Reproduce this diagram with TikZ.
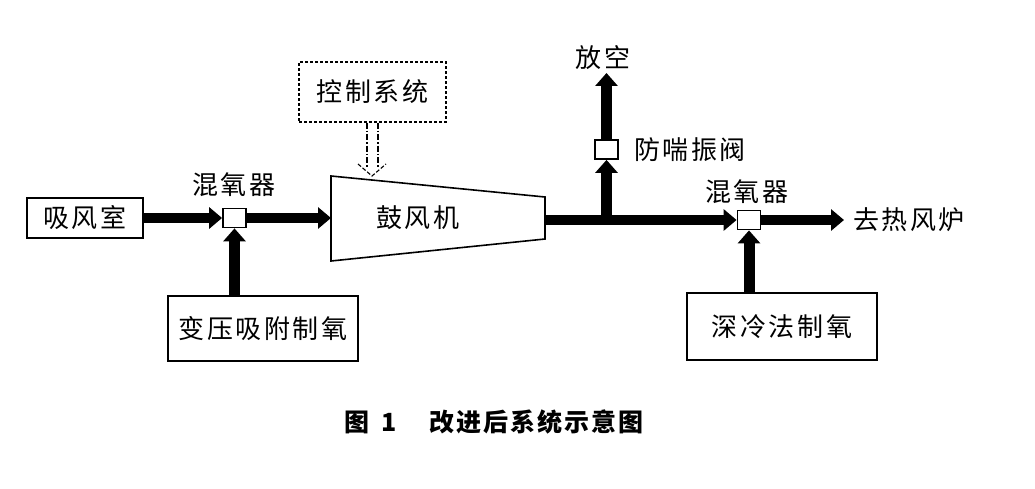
\documentclass[tikz,border=0pt]{standalone}
\usepackage{fontspec}
\usetikzlibrary{arrows.meta}
\newfontfamily\cjk[LetterSpace=10]{Noto Sans CJK SC}
\newfontfamily\cjkcap[LetterSpace=8]{Noto Sans CJK SC}
\begin{document}
\begin{tikzpicture}[x=1pt,y=-1pt,
  lbl/.style={font=\cjk\fontsize{26}{30}\selectfont, inner sep=0pt},
  unit/.style={draw, line width=2.6pt, minimum height=#1, inner sep=0pt, font=\cjk\fontsize{26}{30}\selectfont},
  mixer/.style={draw, line width=1.8pt, fill=white, minimum width=23pt, minimum height=19pt, inner sep=0pt},
  flow/.style={line width=10pt, -{Triangle[width=21pt,length=13pt]}},
  flowv/.style={line width=11pt, -{Triangle[width=22pt,length=13pt]}},
  ctrl/.style={line width=1.1pt, dash pattern=on 6pt off 2pt on 1.5pt off 2pt}
]
\useasboundingbox (0,0) rectangle (1035,489);

% source boxes
\node[unit=40pt, minimum width=116pt] (room) at (85,218) {吸风室};
\node[unit=65pt, minimum width=190pt] (psa) at (263,328.5) {变压吸附制氧};
\node[unit=67pt, minimum width=190pt] (cryo) at (782,326.5) {深冷法制氧};

% mixers and surge valve
\node[mixer] (mix1) at (234.5,218) {};
\node[mixer] (mix2) at (749,220) {};
\node[mixer] (valve) at (606.5,149.5) {};
\node[lbl, anchor=south] (mix1lbl) at (234,197) {混氧器};
\node[lbl, anchor=south] (mix2lbl) at (747,204) {混氧器};
\node[lbl, anchor=west] (valvelbl) at (634,150) {防喘振阀};

% blower drawn as a tapering trapezoid
\draw[line width=1.6pt] (331,176) -- (545,197) -- (545,239) -- (331,261) -- cycle;
\node[lbl] (blower) at (418,218) {鼓风机};
\coordinate (blowL) at (331,218);
\coordinate (blowR) at (545,220);

% control system
\node[draw, line width=1.2pt, dash pattern=on 3pt off 2pt, minimum width=147pt, minimum height=60pt, font=\cjk\fontsize{26}{30}\selectfont] (ctrlbox) at (372.5,92) {控制系统};
\draw[ctrl] ([xshift=-5.5pt]ctrlbox.south) -- ++(0,44);
\draw[ctrl] ([xshift=5.5pt]ctrlbox.south) -- ++(0,44);
\coordinate (ctip) at (372,176);
\draw[line width=1.1pt, dash pattern=on 4pt off 2pt] (358,164) -- (ctip) -- (386,164);

% outlets
\node[lbl] (vent) at (603,58) {放空};
\node[lbl, anchor=west] (furnace) at (853,220) {去热风炉};
\coordinate (ventend) at (606.5,73);
\coordinate (outend) at (844,220);
\coordinate (junction) at (606.5,220);

% main flow
\draw[flow] (room.east) -- (mix1.west);
\draw[flow] (mix1.east) -- (blowL);
\draw[flow] (blowR) -- (mix2.west);
\draw[flow] (mix2.east) -- (outend);
\draw[flowv] ([yshift=5pt]junction) -- (valve.south);
\draw[flowv] (valve.north) -- (ventend);
\draw[flowv] (psa.north -| mix1) -- (mix1.south);
\draw[flowv] (cryo.north -| mix2) -- (mix2.south);

% caption
\node[font=\cjkcap\bfseries\fontsize{25}{30}\selectfont, inner sep=0pt] (caption) at (494,422) {图\hspace{0.5em}1\hspace{1.3em}改进后系统示意图};
\end{tikzpicture}
\end{document}
